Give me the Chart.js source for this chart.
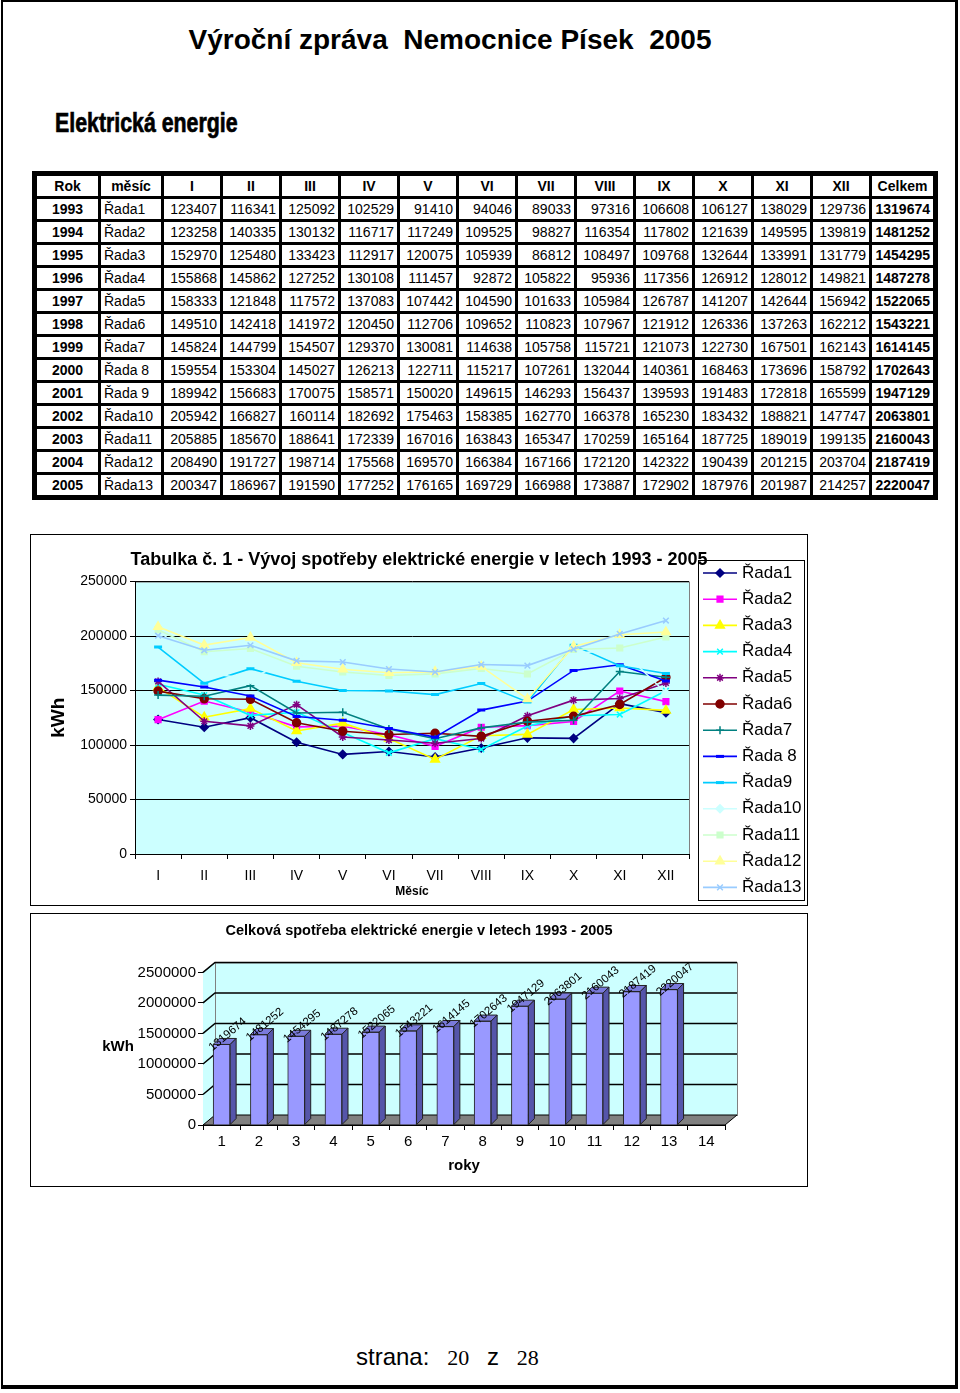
<!DOCTYPE html>
<html lang="cs">
<head>
<meta charset="utf-8">
<title>Elektrická energie</title>
<script src="https://cdn.jsdelivr.net/npm/chart.js@4.4.1/dist/chart.umd.min.js"></script>
<style>
  body { margin: 0; background: #fff; font-family: "Liberation Sans", Arial, sans-serif; }
  #page { position: relative; width: 960px; height: 1393px; overflow: hidden; }
  #frame { position: absolute; left: 1px; top: 0; width: 952px; height: 1383px;
           border: 2px solid #000; border-right-width: 3px; border-bottom-width: 4px; }
  #head { position: absolute; left: 0; top: 25px; width: 900px; text-align: center;
          font-size: 28px; font-weight: bold; line-height: 30px; white-space: pre; }
  #sub { position: absolute; left: 55px; top: 108px; font-size: 27px; font-weight: bold;
         line-height: 30px; transform: scaleX(0.79); transform-origin: left center;
         -webkit-text-stroke: 0.7px #000; white-space: nowrap; }
  #tbl { position: absolute; left: 32px; top: 171px; border: 2px solid #000; background: #000;
         border-collapse: separate; border-spacing: 3px; font-size: 14px; }
  #tbl td { background: #fff; height: 20px; line-height: 20px; padding: 0 3px; text-align: right; white-space: nowrap; }
  #tbl tr:first-child td { text-align: center; font-weight: bold; }
  #tbl td.yr { text-align: center; font-weight: bold; }
  #tbl td.nm { text-align: left; }
  #tbl td.tot { font-weight: bold; }
  .box { position: absolute; border: 1px solid #000; background: #fff; }
  #lineBox { left: 30px; top: 534px; width: 776px; height: 370px; }
  #barBox { left: 30px; top: 913px; width: 776px; height: 272px; }
  #foot { position: absolute; left: 356px; top: 1340px; white-space: pre; line-height: 34px; }
  #foot .a { font-size: 24px; }
  #foot .t { font-family: "Liberation Serif", "Times New Roman", serif; font-size: 22px; }
</style>
</head>
<body>
<div id="page">
  <div id="frame"></div>
  <div id="head">Výroční zpráva  Nemocnice Písek  2005</div>
  <div id="sub">Elektrická energie</div>
  <table id="tbl">
    <colgroup>
      <col style="width:61px"><col style="width:60px">
      <col style="width:56px"><col style="width:56px"><col style="width:56px"><col style="width:56px">
      <col style="width:56px"><col style="width:56px"><col style="width:56px"><col style="width:56px">
      <col style="width:56px"><col style="width:56px"><col style="width:56px"><col style="width:56px">
      <col style="width:61px">
    </colgroup>
    <tbody id="tbody"></tbody>
  </table>
  <div class="box" id="lineBox"><canvas id="lineChart" width="776" height="370"></canvas></div>
  <div class="box" id="barBox"><canvas id="barChart" width="776" height="272"></canvas></div>
  <div id="foot"><span class="a">strana:</span>    <span class="t">20</span>    <span class="a">z</span>    <span class="t">28</span></div>
</div>
<script>
const months = ['I', 'II', 'III', 'IV', 'V', 'VI', 'VII', 'VIII', 'IX', 'X', 'XI', 'XII'];
const years = [1993, 1994, 1995, 1996, 1997, 1998, 1999, 2000, 2001, 2002, 2003, 2004, 2005];
const rowNames = ['Řada1', 'Řada2', 'Řada3', 'Řada4', 'Řada5', 'Řada6', 'Řada7', 'Řada 8', 'Řada 9', 'Řada10', 'Řada11', 'Řada12', 'Řada13'];
const legendNames = ['Řada1', 'Řada2', 'Řada3', 'Řada4', 'Řada5', 'Řada6', 'Řada7', 'Řada 8', 'Řada9', 'Řada10', 'Řada11', 'Řada12', 'Řada13'];

const r1993 = [123407, 116341, 125092, 102529, 91410, 94046, 89033, 97316, 106608, 106127, 138029, 129736];
const r1994 = [123258, 140335, 130132, 116717, 117249, 109525, 98827, 116354, 117802, 121639, 149595, 139819];
const r1995 = [152970, 125480, 133423, 112917, 120075, 105939, 86812, 108497, 109768, 132644, 133991, 131779];
const r1996 = [155868, 145862, 127252, 130108, 111457, 92872, 105822, 95936, 117356, 126912, 128012, 149821];
const r1997 = [158333, 121848, 117572, 137083, 107442, 104590, 101633, 105984, 126787, 141207, 142644, 156942];
const r1998 = [149510, 142418, 141972, 120450, 112706, 109652, 110823, 107967, 121912, 126336, 137263, 162212];
const r1999 = [145824, 144799, 154507, 129370, 130081, 114638, 105758, 115721, 121073, 122730, 167501, 162143];
const r2000 = [159554, 153304, 145027, 126213, 122711, 115217, 107261, 132044, 140361, 168463, 173696, 158792];
const r2001 = [189942, 156683, 170075, 158571, 150020, 149615, 146293, 156437, 139593, 191483, 172818, 165599];
const r2002 = [205942, 166827, 160114, 182692, 175463, 158385, 162770, 166378, 165230, 183432, 188821, 147747];
const r2003 = [205885, 185670, 188641, 172339, 167016, 163843, 165347, 170259, 165164, 187725, 189019, 199135];
const r2004 = [208490, 191727, 198714, 175568, 169570, 166384, 167166, 172120, 142322, 190439, 201215, 203704];
const r2005 = [200347, 186967, 191590, 177252, 176165, 169729, 166988, 173887, 172902, 187976, 201987, 214257];
const rows = [r1993, r1994, r1995, r1996, r1997, r1998, r1999, r2000, r2001, r2002, r2003, r2004, r2005];

const totals = [1319674, 1481252, 1454295, 1487278, 1522065, 1543221, 1614145, 1702643, 1947129, 2063801, 2160043, 2187419, 2220047];
const barLabels = ['1', '2', '3', '4', '5', '6', '7', '8', '9', '10', '11', '12', '13', '14'];

const lineTicks = [0, 50000, 100000, 150000, 200000, 250000];
const barTicks = [0, 500000, 1000000, 1500000, 2000000, 2500000];

// Excel-like series styles
const colors = ['#000080', '#FF00FF', '#FFFF00', '#00FFFF', '#800080', '#800000', '#008080', '#0000FF', '#00CCFF', '#CCFFFF', '#CCFFCC', '#FFFF99', '#99CCFF'];
const markers = ['rectRot', 'rect', 'triangle', 'crossRot', 'star', 'circle', 'cross', 'line', 'line', 'rectRot', 'rect', 'triangle', 'crossRot'];

// table
const tbody = document.getElementById('tbody');
let html = '<tr><td>Rok</td><td>měsíc</td>' + months.map(m => '<td>' + m + '</td>').join('') + '<td>Celkem</td></tr>';
rows.forEach((r, i) => {
  html += '<tr><td class="yr">' + years[i] + '</td><td class="nm">' + rowNames[i] + '</td>' +
    r.map(v => '<td>' + v + '</td>').join('') + '<td class="tot">' + totals[i] + '</td></tr>';
});
tbody.innerHTML = html;

Chart.defaults.font.family = "'Liberation Sans', Arial, sans-serif";
Chart.defaults.color = '#000';
Chart.defaults.animation = false;

// empty axis on the right that keeps room for the legend, so the title stays centred on the whole box
const spacer = w => ({
  type: 'linear', position: 'right', display: true,
  afterFit: s => { s.width = w; },
  grid: { display: false }, border: { display: false }, ticks: { display: false }
});

const plotBg = {
  id: 'plotBg',
  beforeDraw(chart, args, opts) {
    const { ctx, chartArea: a } = chart;
    ctx.save();
    ctx.fillStyle = opts.color;
    ctx.fillRect(a.left, a.top, a.right - a.left, a.bottom - a.top);
    ctx.strokeStyle = '#808080';
    ctx.lineWidth = 1;
    ctx.strokeRect(a.left + 0.5, a.top + 0.5, a.right - a.left, a.bottom - a.top);
    ctx.restore();
  }
};

const boxLegend = {
  id: 'boxLegend',
  afterDraw(chart, args, o) {
    const ctx = chart.ctx;
    ctx.save();
    ctx.strokeStyle = '#000';
    ctx.lineWidth = 1;
    ctx.strokeRect(o.x + 0.5, o.y + 0.5, o.w, o.h);
    ctx.font = "17px 'Liberation Sans', Arial, sans-serif";
    ctx.textBaseline = 'middle';
    chart.data.datasets.forEach((ds, i) => {
      const y = o.y + 13 + i * 26.2;
      ctx.strokeStyle = ds.borderColor;
      ctx.lineWidth = ds.borderWidth;
      ctx.beginPath();
      ctx.moveTo(o.x + 5, y);
      ctx.lineTo(o.x + 39, y);
      ctx.stroke();
      ctx.fillStyle = ds.pointBackgroundColor;
      ctx.strokeStyle = ds.pointBorderColor;
      ctx.lineWidth = ds.pointBorderWidth;
      Chart.helpers.drawPoint(ctx, { pointStyle: ds.pointStyle, radius: ds.pointRadius, rotation: 0, borderWidth: ds.pointBorderWidth }, o.x + 22, y);
      ctx.fillStyle = '#000';
      ctx.fillText(ds.label, o.x + 44, y);
    });
    ctx.restore();
  }
};

new Chart(document.getElementById('lineChart'), {
  type: 'line',
  data: {
    labels: months,
    datasets: rows.map((r, i) => ({
      label: legendNames[i],
      data: r,
      borderColor: colors[i],
      backgroundColor: colors[i],
      borderWidth: 1.6,
      pointStyle: markers[i],
      pointRadius: markers[i] === 'triangle' ? 5 : 4,
      pointBackgroundColor: colors[i],
      pointBorderColor: colors[i],
      pointBorderWidth: markers[i] === 'line' ? 3 : 1.5,
      tension: 0,
      order: rows.length - i
    }))
  },
  options: {
    responsive: false,
    layout: { padding: 0 },
    scales: {
      x: {
        offset: true,
        afterFit: s => { s.height = 51; },
        border: { color: '#000', width: 1 },
        grid: { offset: true, drawOnChartArea: false, tickLength: 5, color: '#000' },
        ticks: { font: { size: 14 }, padding: 9, maxRotation: 0 },
        title: { display: true, text: 'Měsíc', font: { size: 12, weight: 'bold' }, padding: { top: 0, bottom: 6 } }
      },
      y: {
        min: 0,
        max: 250000,
        afterFit: s => { s.width = 104; },
        afterBuildTicks: s => { s.ticks = lineTicks.map(v => ({ value: v })); },
        border: { color: '#000', width: 1 },
        grid: { color: '#000', lineWidth: 1, tickLength: 5 },
        ticks: { font: { size: 14 }, padding: 3, callback: v => String(v) },
        title: { display: true, text: 'kWh', font: { size: 19, weight: 'bold' }, padding: { top: 16, bottom: 0 } }
      },
      legendRoom: spacer(118)
    },
    plugins: {
      legend: { display: false },
      tooltip: { enabled: false },
      title: {
        display: true,
        text: 'Tabulka č. 1 - Vývoj spotřeby elektrické energie v letech 1993 - 2005',
        font: { size: 18, weight: 'bold' },
        padding: { top: 14, bottom: 11 }
      },
      plotBg: { color: '#CCFFFF' },
      boxLegend: { x: 667, y: 25, w: 106, h: 340 }
    }
  },
  plugins: [plotBg, boxLegend]
});

const bar3d = {
  id: 'bar3d',
  beforeDatasetsDraw(chart, args, o) {
    const { ctx, chartArea: a, scales: { y } } = chart;
    const dx = o.dx, dy = o.dy;
    ctx.save();
    ctx.fillStyle = o.wall;
    ctx.beginPath();
    ctx.moveTo(a.left, a.top);
    ctx.lineTo(a.left + dx, a.top + dy);
    ctx.lineTo(a.left + dx, a.bottom + dy);
    ctx.lineTo(a.left, a.bottom);
    ctx.closePath();
    ctx.fill();
    ctx.fillRect(a.left + dx, a.top + dy, a.right - a.left, a.bottom - a.top);
    ctx.strokeStyle = '#808080';
    ctx.lineWidth = 1;
    ctx.strokeRect(a.left + dx + 0.5, a.top + dy + 0.5, a.right - a.left, a.bottom - a.top);
    ctx.beginPath();
    ctx.moveTo(a.left, a.top);
    ctx.lineTo(a.left + dx, a.top + dy);
    ctx.stroke();
    // floor
    ctx.fillStyle = o.floor;
    ctx.beginPath();
    ctx.moveTo(a.left, a.bottom);
    ctx.lineTo(a.right, a.bottom);
    ctx.lineTo(a.right + dx, a.bottom + dy);
    ctx.lineTo(a.left + dx, a.bottom + dy);
    ctx.closePath();
    ctx.fill();
    ctx.strokeStyle = '#000';
    ctx.stroke();
    // back wall grid
    ctx.lineWidth = 1.5;
    y.ticks.forEach(t => {
      if (!t.value) return;
      const py = y.getPixelForValue(t.value);
      ctx.beginPath();
      ctx.moveTo(a.left, py);
      ctx.lineTo(a.left + dx, py + dy);
      ctx.lineTo(a.right + dx, py + dy);
      ctx.stroke();
    });
    ctx.restore();
  },
  afterDatasetsDraw(chart, args, o) {
    const ctx = chart.ctx;
    const meta = chart.getDatasetMeta(0);
    const values = chart.data.datasets[0].data;
    ctx.save();
    ctx.lineWidth = 1;
    ctx.strokeStyle = '#222';
    meta.data.forEach((bar, i) => {
      if (values[i] == null) return;
      const { x, y, base, width } = bar.getProps(['x', 'y', 'base', 'width'], true);
      const l = x - width / 2, r = x + width / 2, bx = o.bdx, by = o.bdy;
      ctx.fillStyle = o.top;
      ctx.beginPath();
      ctx.moveTo(l, y); ctx.lineTo(r, y); ctx.lineTo(r + bx, y + by); ctx.lineTo(l + bx, y + by);
      ctx.closePath(); ctx.fill(); ctx.stroke();
      ctx.fillStyle = o.side;
      ctx.beginPath();
      ctx.moveTo(r, y); ctx.lineTo(r + bx, y + by); ctx.lineTo(r + bx, base + by); ctx.lineTo(r, base);
      ctx.closePath(); ctx.fill(); ctx.stroke();
    });
    ctx.fillStyle = '#000';
    ctx.font = "11.5px 'Liberation Sans', Arial, sans-serif";
    ctx.textAlign = 'center';
    ctx.textBaseline = 'middle';
    meta.data.forEach((bar, i) => {
      if (values[i] == null) return;
      const { x, y } = bar.getProps(['x', 'y'], true);
      ctx.save();
      ctx.translate(x + 6, y - 10);
      ctx.rotate(-40 * Math.PI / 180);
      ctx.fillText(String(values[i]), 0, 0);
      ctx.restore();
    });
    // horizontal axis title on the left
    ctx.font = "bold 15px 'Liberation Sans', Arial, sans-serif";
    ctx.fillText('kWh', 87, 133);
    ctx.restore();
  }
};

new Chart(document.getElementById('barChart'), {
  type: 'bar',
  data: {
    labels: barLabels,
    datasets: [{
      label: 'Celkem',
      data: totals,
      backgroundColor: '#9999FF',
      borderColor: '#222',
      borderWidth: 1,
      barThickness: 17
    }]
  },
  options: {
    responsive: false,
    layout: { padding: 0 },
    scales: {
      x: {
        offset: true,
        afterFit: s => { s.height = 61; },
        border: { color: '#000', width: 1 },
        grid: { offset: true, drawOnChartArea: false, tickLength: 5, color: '#000' },
        ticks: { font: { size: 15 }, padding: 3, maxRotation: 0 },
        title: { display: true, text: 'roky', font: { size: 15, weight: 'bold' }, padding: { top: 0, bottom: 11 } }
      },
      y: {
        min: 0,
        max: 2500000,
        afterFit: s => { s.width = 172; },
        afterBuildTicks: s => { s.ticks = barTicks.map(v => ({ value: v })); },
        border: { color: '#000', width: 1 },
        grid: { drawOnChartArea: false, tickLength: 5, color: '#000' },
        ticks: { font: { size: 15 }, padding: 2, callback: v => String(v) }
      },
      wallRoom: spacer(82)
    },
    plugins: {
      legend: { display: false },
      tooltip: { enabled: false },
      title: {
        display: true,
        text: 'Celková spotřeba elektrické energie v letech 1993 - 2005',
        font: { size: 14.5, weight: 'bold' },
        padding: { top: 8, bottom: 33 }
      },
      bar3d: { dx: 12, dy: -10, bdx: 6, bdy: -6, wall: '#CCFFFF', floor: '#808080', top: '#7A7ADB', side: '#5555AA' }
    }
  },
  plugins: [bar3d]
});
</script>
</body>
</html>
